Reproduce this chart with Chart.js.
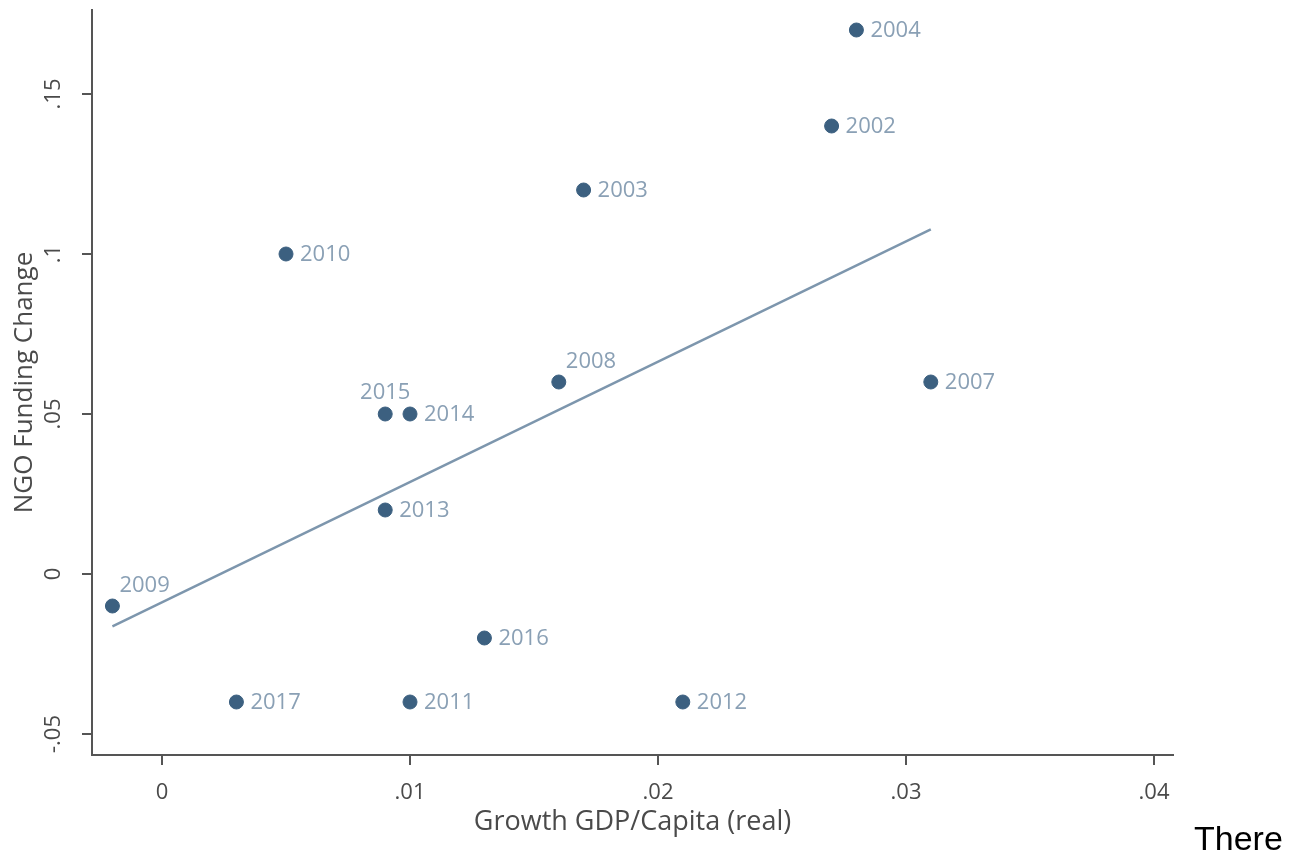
<!DOCTYPE html>
<html><head><meta charset="utf-8">
<script src="https://cdn.jsdelivr.net/npm/chart.js@4/dist/chart.umd.min.js"></script>
<style>
html,body{margin:0;padding:0;background:#fff;width:1295px;height:852px;overflow:hidden}
#wrap{position:absolute;left:0;top:0;width:1295px;height:852px}
#there{position:absolute;left:1194px;top:821px;font-family:"Liberation Sans",Arial,sans-serif;font-size:34px;color:#000;line-height:1;white-space:nowrap}
</style></head><body>
<div id="wrap"><canvas id="c"></canvas></div>
<div id="there">There</div>
<script>
// ---- data ----
const years      = ['2002','2003','2004','2007','2008','2009','2010','2011','2012','2013','2014','2015','2016','2017'];
const gdpGrowth  = [0.027, 0.017, 0.028, 0.031, 0.016, -0.002, 0.005, 0.010, 0.021, 0.009, 0.010, 0.009, 0.013, 0.003];
const ngoChange  = [0.14,  0.12,  0.17,  0.06,  0.06,  -0.01,  0.10,  -0.04, -0.04, 0.02,  0.05,  0.05,  -0.02, -0.04];
const fitX       = [-0.002, 0.031];
const fitY       = [-0.0164, 0.1077];
const xTicks     = [0, 0.01, 0.02, 0.03, 0.04];
const xTickLabels= ['0', '.01', '.02', '.03', '.04'];
const yTicks     = [-0.05, 0, 0.05, 0.1, 0.15];
const yTickLabels= ['-.05', '0', '.05', '.1', '.15'];
// label placement (style): r = right, t = top centered, tr = top-right
const labelPlace = ['r','r','r','r','tr','tr','r','r','r','r','r','t','r','r'];

const FONT = '"Open Sans", "Noto Sans", sans-serif';
const axisColor = '#555555';
const textColor = '#4a4a4a';
const dotColor = '#3c6080';
const labelColor = '#8aa0b5';
const lineColor = '#7d96ad';

const pointLabels = {
  id: 'pointLabels',
  afterDatasetsDraw(chart) {
    const meta = chart.getDatasetMeta(1);
    const ctx = chart.ctx;
    ctx.save();
    ctx.font = '22px ' + FONT;
    ctx.fillStyle = labelColor;
    meta.data.forEach((el, i) => {
      const p = labelPlace[i];
      let x = el.x, y = el.y;
      if (p === 'r') { ctx.textAlign = 'left'; ctx.textBaseline = 'middle'; x += 14; y += 1; }
      else if (p === 't') { ctx.textAlign = 'center'; ctx.textBaseline = 'middle'; y -= 21; }
      else { ctx.textAlign = 'left'; ctx.textBaseline = 'middle'; x += 7; y -= 20; }
      ctx.fillText(years[i], x, y);
    });
    ctx.restore();
  }
};

const fmt = (ticksArr, labels) => (v) => {
  const i = ticksArr.findIndex(t => Math.abs(t - v) < 1e-9);
  return i >= 0 ? labels[i] : '';
};

new Chart(document.getElementById('c'), {
  type: 'scatter',
  data: {
    datasets: [
      {
        type: 'line',
        data: fitX.map((x, i) => ({x, y: fitY[i]})),
        borderColor: lineColor,
        borderWidth: 2.5,
        pointRadius: 0,
        fill: false,
        order: 2
      },
      {
        data: gdpGrowth.map((x, i) => ({x, y: ngoChange[i]})),
        backgroundColor: dotColor,
        borderColor: dotColor,
        borderWidth: 1,
        pointRadius: 7,
        order: 1
      }
    ]
  },
  options: {
    responsive: true,
    maintainAspectRatio: false,
    animation: false,
    events: [],
    layout: { padding: { top: 10, right: 122, left: 0, bottom: 0 } },
    plugins: { legend: { display: false }, tooltip: { enabled: false } },
    scales: {
      x: {
        type: 'linear',
        min: -0.002823,
        max: 0.040766,
        afterBuildTicks: (s) => { s.ticks = xTicks.map(v => ({value: v})); },
        afterFit: (s) => { s.height = 97; s.paddingLeft = 0; s.paddingRight = 0; },
        grid: { display: true, drawOnChartArea: false, drawTicks: true, tickLength: 10, color: axisColor, lineWidth: 2 },
        border: { display: true, color: axisColor, width: 2 },
        ticks: { callback: fmt(xTicks, xTickLabels), color: textColor, font: { family: FONT, size: 22 }, padding: 15, maxRotation: 0, autoSkip: false },
        title: { display: true, text: 'Growth GDP/Capita (real)', color: textColor, font: { family: FONT, size: 27 }, padding: { top: 0, bottom: 13 } }
      },
      y: {
        type: 'linear',
        min: -0.0565625,
        max: 0.17625,
        afterBuildTicks: (s) => { s.ticks = yTicks.map(v => ({value: v})); },
        afterFit: (s) => { s.width = 92; s.paddingTop = 0; s.paddingBottom = 0; },
        grid: { display: true, drawOnChartArea: false, drawTicks: true, tickLength: 10, color: axisColor, lineWidth: 2 },
        border: { display: true, color: axisColor, width: 2 },
        ticks: { callback: fmt(yTicks, yTickLabels), color: textColor, font: { family: FONT, size: 22 }, padding: 9, minRotation: 90, maxRotation: 90, crossAlign: 'center', autoSkip: false },
        title: { display: true, text: 'NGO Funding Change', color: textColor, font: { family: FONT, size: 26 }, padding: { top: 9, bottom: 0 } }
      }
    }
  },
  plugins: [pointLabels]
});
</script>
</body></html>
